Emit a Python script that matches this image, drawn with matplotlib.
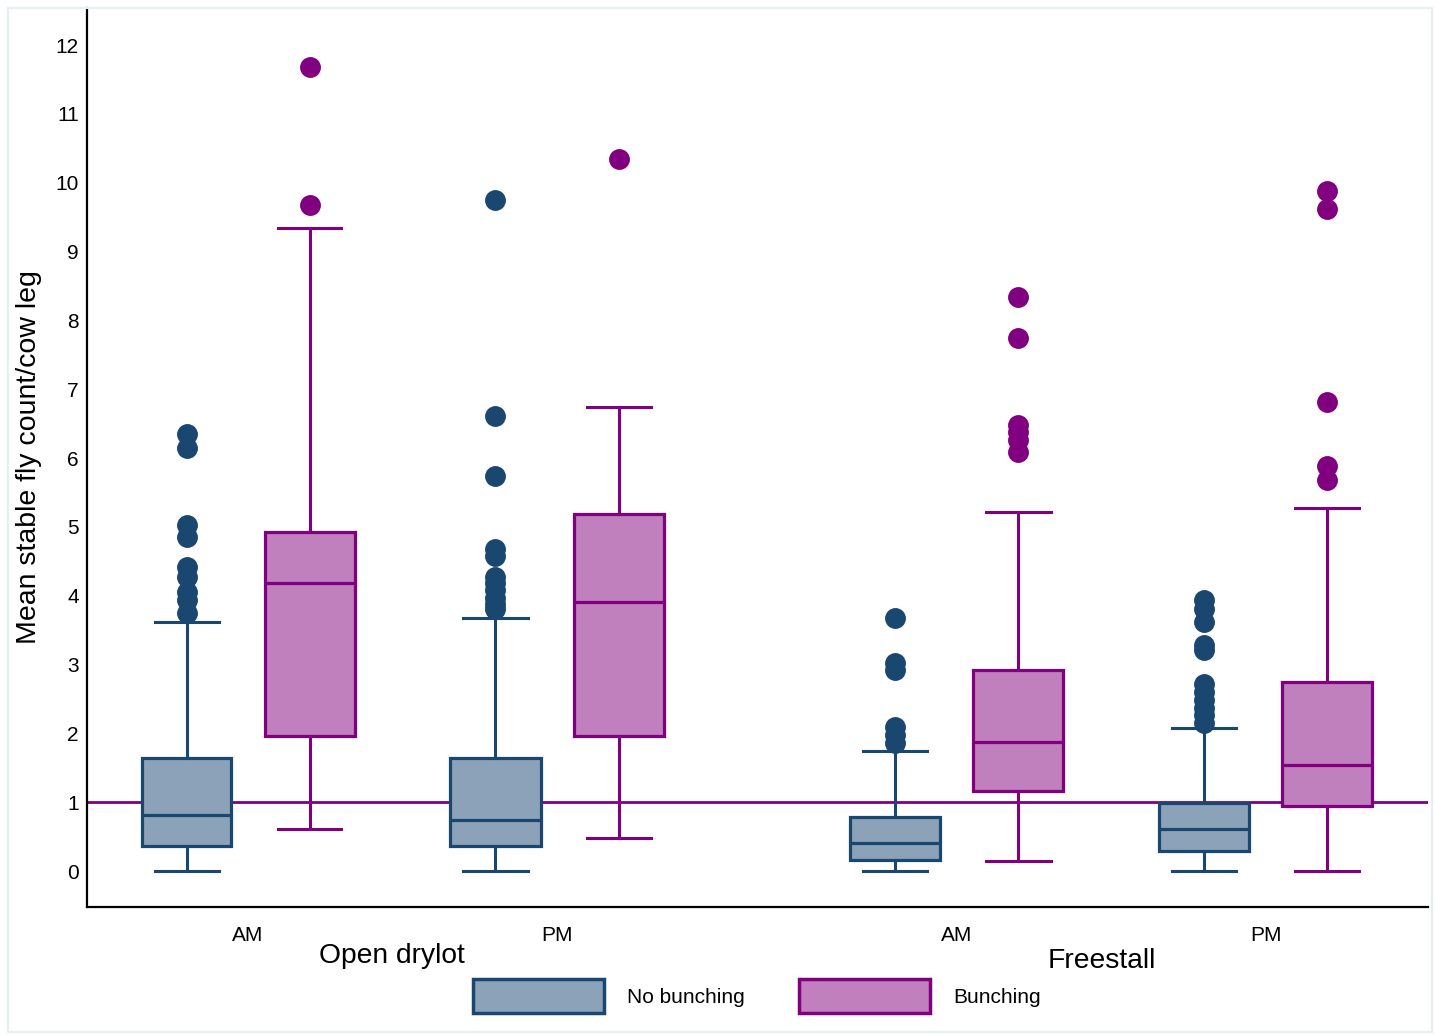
import matplotlib
matplotlib.use("Agg")
import matplotlib.pyplot as plt
from matplotlib.patches import Patch, Rectangle

plt.rcParams['font.family'] = ['Liberation Sans', 'DejaVu Sans']

housing = ['Open drylot', 'Freestall']
times = ['AM', 'PM', 'AM', 'PM']
groups = ['No bunching', 'Bunching']

# order: Open AM, Open PM, Freestall AM, Freestall PM
nb_whislo = [0.0, 0.0, 0.0, 0.0]
nb_q1 = [0.36, 0.36, 0.16, 0.29]
nb_med = [0.81, 0.74, 0.41, 0.61]
nb_q3 = [1.64, 1.64, 0.78, 0.99]
nb_whishi = [3.62, 3.68, 1.74, 2.08]
nb_fliers = [
    [3.75, 3.94, 4.05, 4.27, 4.42, 4.85, 5.03, 6.15, 6.35],
    [3.81, 3.88, 3.97, 4.08, 4.18, 4.27, 4.58, 4.68, 5.74, 6.61, 9.75],
    [1.86, 1.98, 2.09, 2.92, 3.02, 3.68],
    [2.15, 2.27, 2.37, 2.48, 2.60, 2.72, 3.21, 3.28, 3.62, 3.81, 3.94],
]

b_whislo = [0.61, 0.48, 0.15, 0.0]
b_q1 = [1.96, 1.96, 1.16, 0.94]
b_med = [4.18, 3.91, 1.87, 1.54]
b_q3 = [4.93, 5.19, 2.92, 2.75]
b_whishi = [9.34, 6.74, 5.22, 5.27]
b_fliers = [
    [9.68, 11.68],
    [10.34],
    [6.09, 6.26, 6.38, 6.48, 7.74, 8.34],
    [5.68, 5.88, 6.81, 9.62, 9.88],
]

navy = '#1a476f'
navy_fill = '#8ca2b8'
purple = '#800080'
purple_fill = '#c07fbd'

W, H = 1435, 1036
fig = plt.figure(figsize=(W / 100, H / 100), dpi=100)
ax = fig.add_axes([87 / W, 1 - 907 / H, 1341 / W, 899 / H])

slots = [1.61, 4.70, 8.70, 11.79]
off = 0.615


def stats(lo, q1, med, q3, hi, fl):
    return [dict(whislo=a, q1=b, med=c, q3=d, whishi=e, fliers=f)
            for a, b, c, d, e, f in zip(lo, q1, med, q3, hi, fl)]


for st, sign, ec, fc in [
        (stats(nb_whislo, nb_q1, nb_med, nb_q3, nb_whishi, nb_fliers), -1, navy, navy_fill),
        (stats(b_whislo, b_q1, b_med, b_q3, b_whishi, b_fliers), 1, purple, purple_fill)]:
    ax.bxp(st, positions=[s + sign * off for s in slots], widths=0.9,
           capwidths=0.64, patch_artist=True, manage_ticks=False,
           boxprops=dict(facecolor=fc, edgecolor=ec, linewidth=2.3),
           medianprops=dict(color=ec, linewidth=2.3),
           whiskerprops=dict(color=ec, linewidth=2.2),
           capprops=dict(color=ec, linewidth=2.2),
           flierprops=dict(marker='o', markersize=14, markerfacecolor=ec,
                           markeredgecolor=ec))

ax.axhline(1, color=purple, linewidth=2, zorder=1)

ax.set_xlim(0, 13.41)
ax.set_ylim(-0.523, 12.54)
ax.set_yticks(range(13))
ax.tick_params(axis='y', length=0, pad=6, labelsize=15)
ax.set_xticks(slots)
ax.set_xticklabels(times)
ax.tick_params(axis='x', length=0, pad=14, labelsize=15)
for s in ['top', 'right']:
    ax.spines[s].set_visible(False)
for s in ['left', 'bottom']:
    ax.spines[s].set_linewidth(1.6)

ax.set_ylabel('Mean stable fly count/cow leg', fontsize=20.5)
ax.yaxis.set_label_coords(-0.0336, 0.5)

fig.text(392 / W, 1 - 956 / H, housing[0], fontsize=20.3, ha='center', va='center')
fig.text(1102 / W, 1 - 961 / H, housing[1], fontsize=20.3, ha='center', va='center')

handles = [Patch(facecolor=navy_fill, edgecolor=navy, linewidth=2.5, label=groups[0]),
           Patch(facecolor=purple_fill, edgecolor=purple, linewidth=2.5, label=groups[1])]
fig.legend(handles=handles, loc='center', bbox_to_anchor=(757 / W, 1 - 996 / H),
           ncol=2, frameon=False, fontsize=15, handlelength=6.3, handleheight=2.1,
           handletextpad=1.1, columnspacing=2.6)

fig.patches.append(Rectangle((8 / W, 4 / H), 1424 / W, 1024 / H, transform=fig.transFigure,
                             fill=False, edgecolor='#e6eff2', linewidth=1.5))

fig.savefig('out.png', dpi=100)
